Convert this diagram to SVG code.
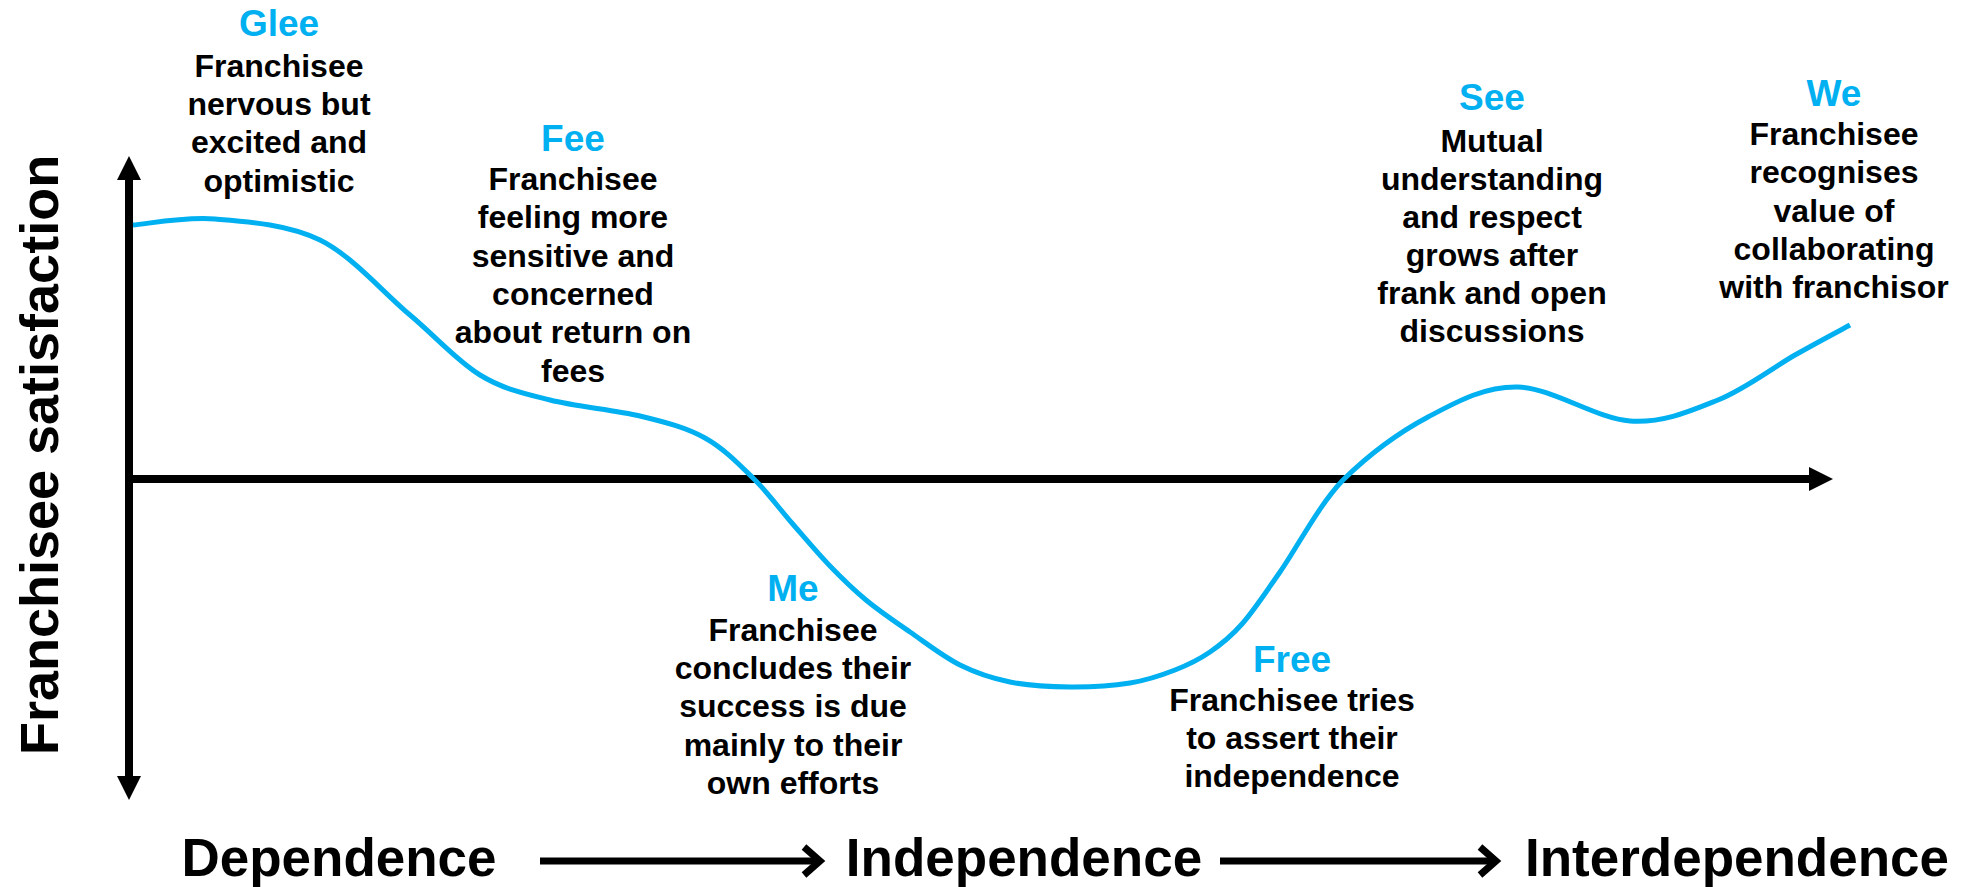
<svg xmlns="http://www.w3.org/2000/svg" width="1969" height="887" viewBox="0 0 1969 887">
  <style>
    text { font-family: "Liberation Sans", Arial, sans-serif; font-weight: bold; text-anchor: middle; }
    .head { font-size: 37px; fill: #00B0F0; }
    .body { font-size: 32px; fill: #000000; }
    .stage { font-size: 53px; fill: #000000; }
    .axis { stroke: #000000; stroke-width: 8; fill: none; }
    .flow { stroke: #000000; stroke-width: 7; fill: none; }
    .curve { stroke: #00B0F0; stroke-width: 5; fill: none; stroke-linecap: butt; }
  </style>
  <defs>
    <marker id="axisHead" markerUnits="userSpaceOnUse" markerWidth="24" markerHeight="24" refX="2" refY="12" orient="auto-start-reverse" viewBox="0 0 24 24">
      <path d="M0,0 L24,12 L0,24 Z" fill="#000000"/>
    </marker>
  </defs>

  <rect width="1969" height="887" fill="#ffffff"/>

  <!-- axes -->
  <g id="axes">
    <line class="axis" x1="129" y1="178" x2="129" y2="778" marker-start="url(#axisHead)" marker-end="url(#axisHead)"/>
    <line class="axis" x1="125" y1="479" x2="1811" y2="479" marker-end="url(#axisHead)"/>
  </g>

  <!-- satisfaction curve -->
  <g id="connectors">
    <path class="curve" d="M133,225
      C147,224 184,216.5 215,219
      C246,221.5 287.5,224 320,240
      C352.5,256 383,292.5 410,315
      C436.7,337.5 456.7,360.8 480,375
      C503.3,389.2 523.3,393.2 550,400
      C576.7,406.8 614.2,409.7 640,416
      C665.8,422.3 686,427.5 705,438
      C724,448.5 739.7,465 754,479
      C768.3,493 778.5,507.7 791,522
      C803.5,536.3 816.5,552 829,565
      C841.5,578 852.5,588.8 866,600
      C879.5,611.2 894.3,621.2 910,632
      C925.7,642.8 943.3,656.7 960,665
      C976.7,673.3 991.7,678.3 1010,682
      C1028.3,685.7 1050,686.8 1070,687
      C1090,687.2 1112.5,685.8 1130,683
      C1147.5,680.2 1161.7,675.2 1175,670
      C1188.3,664.8 1198.8,659.7 1210,652
      C1221.2,644.3 1230.3,637.3 1242,624
      C1253.7,610.7 1263.2,596 1280,572
      C1296.8,548 1318.3,505.8 1343,480
      C1367.7,455.8 1398.8,432.5 1428,417
      C1457.2,401.5 1484.3,386.3 1518,387
      C1551.7,387.7 1596.7,418.8 1630,421
      C1663.3,423.2 1690.5,411 1718,400
      C1745.5,389 1773,367.5 1795,355
      C1817,342.5 1840.8,330 1850,325"/>
    <!-- stage flow arrows -->
    <line class="flow" x1="540" y1="861" x2="818" y2="861"/>
    <polyline class="flow" points="804,847 820,861 804,875" stroke-linejoin="miter"/>
    <line class="flow" x1="1220" y1="861" x2="1494" y2="861"/>
    <polyline class="flow" points="1480,847 1496,861 1480,875" stroke-linejoin="miter"/>
  </g>

  <!-- y axis title -->
  <g id="y-title">
    <text class="stage" x="0" y="0" transform="translate(58,455) rotate(-90)" style="font-size:54px">Franchisee satisfaction</text>
  </g>

  <g id="glee">
    <text class="head" x="279" y="36">Glee</text>
    <text class="body" x="279" y="77">Franchisee</text>
    <text class="body" x="279" y="115">nervous but</text>
    <text class="body" x="279" y="153">excited and</text>
    <text class="body" x="279" y="192">optimistic</text>
  </g>

  <g id="fee">
    <text class="head" x="573" y="151">Fee</text>
    <text class="body" x="573" y="190">Franchisee</text>
    <text class="body" x="573" y="228">feeling more</text>
    <text class="body" x="573" y="267">sensitive and</text>
    <text class="body" x="573" y="305">concerned</text>
    <text class="body" x="573" y="343">about return on</text>
    <text class="body" x="573" y="382">fees</text>
  </g>

  <g id="me">
    <text class="head" x="793" y="601">Me</text>
    <text class="body" x="793" y="641">Franchisee</text>
    <text class="body" x="793" y="679">concludes their</text>
    <text class="body" x="793" y="717">success is due</text>
    <text class="body" x="793" y="756">mainly to their</text>
    <text class="body" x="793" y="794">own efforts</text>
  </g>

  <g id="free">
    <text class="head" x="1292" y="672">Free</text>
    <text class="body" x="1292" y="711">Franchisee tries</text>
    <text class="body" x="1292" y="749">to assert their</text>
    <text class="body" x="1292" y="787">independence</text>
  </g>

  <g id="see">
    <text class="head" x="1492" y="110">See</text>
    <text class="body" x="1492" y="152">Mutual</text>
    <text class="body" x="1492" y="190">understanding</text>
    <text class="body" x="1492" y="228">and respect</text>
    <text class="body" x="1492" y="266">grows after</text>
    <text class="body" x="1492" y="304">frank and open</text>
    <text class="body" x="1492" y="342">discussions</text>
  </g>

  <g id="we">
    <text class="head" x="1834" y="106">We</text>
    <text class="body" x="1834" y="145">Franchisee</text>
    <text class="body" x="1834" y="183">recognises</text>
    <text class="body" x="1834" y="222">value of</text>
    <text class="body" x="1834" y="260">collaborating</text>
    <text class="body" x="1834" y="298">with franchisor</text>
  </g>

  <g id="stages">
    <text class="stage" x="339" y="876">Dependence</text>
    <text class="stage" x="1024" y="876">Independence</text>
    <text class="stage" x="1737" y="876">Interdependence</text>
  </g>
</svg>
